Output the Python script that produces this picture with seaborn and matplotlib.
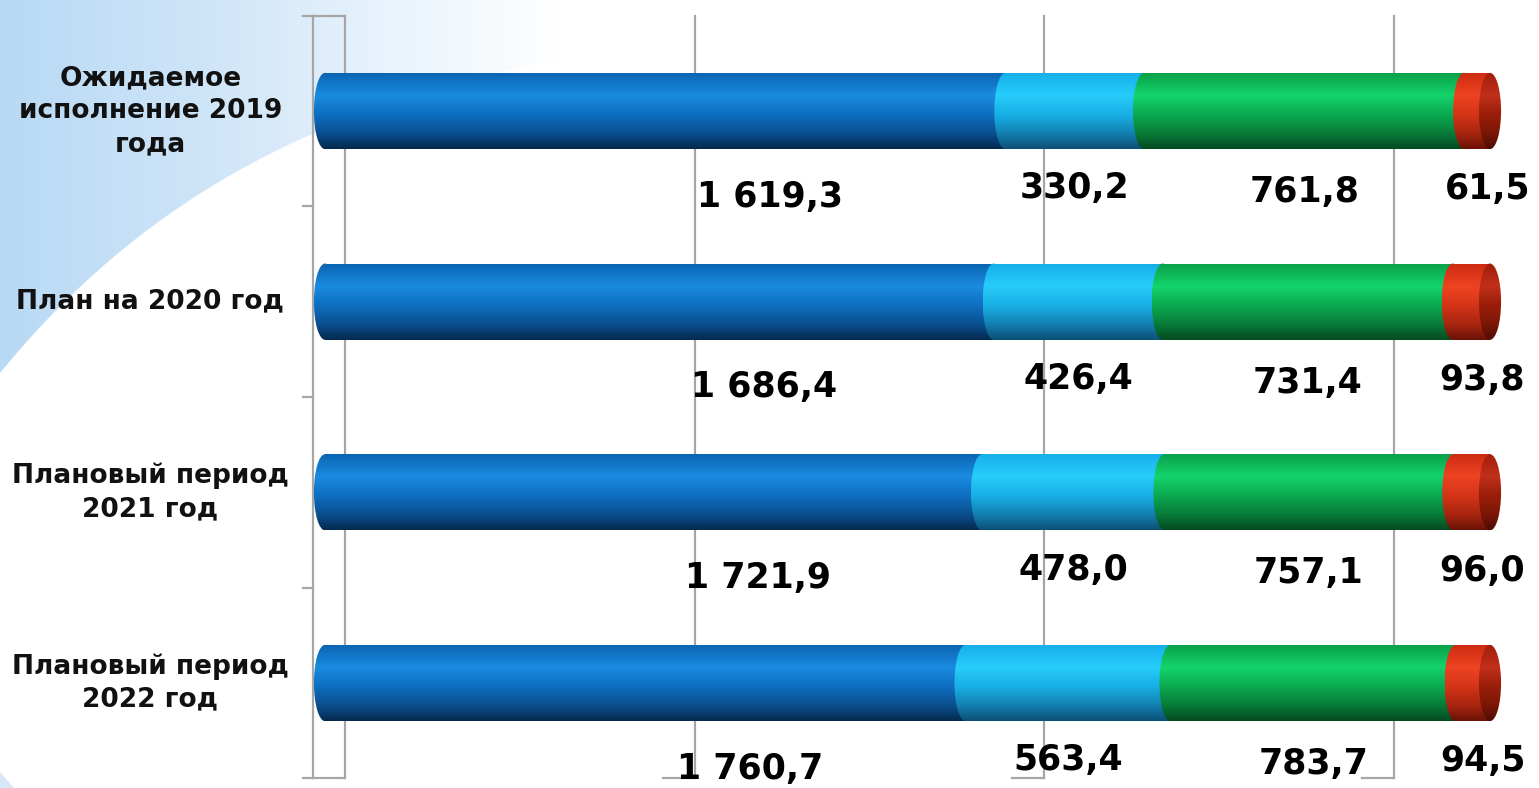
import numpy as np
import pandas as pd
import matplotlib
matplotlib.use('Agg')
import matplotlib.pyplot as plt
import seaborn as sns
from matplotlib.colors import LinearSegmentedColormap
from matplotlib.patches import Ellipse, Polygon

# данные
categories = ["Ожидаемое\nисполнение 2019\nгода", "План на 2020 год",
              "Плановый период\n2021 год", "Плановый период\n2022 год"]
seg_names = ["s1", "s2", "s3", "s4"]
seg1 = [1619.3, 1686.4, 1721.9, 1760.7]
seg2 = [330.2, 426.4, 478.0, 563.4]
seg3 = [761.8, 731.4, 757.1, 783.7]
seg4 = [61.5, 93.8, 96.0, 94.5]

df = pd.DataFrame({'cat': categories, 's1': seg1, 's2': seg2, 's3': seg3, 's4': seg4})
total = df[seg_names].sum(axis=1)
shares = df[seg_names].div(total, axis=0)
cums = shares.cumsum(axis=1)
starts = cums - shares

# цвета цилиндров (верх, блик, середина, низ)
grads = {
    's1': ['#0A63B0', '#1A8BE0', '#0E6FC0', '#0A4E8E', '#052A4E'],
    's2': ['#15AEEA', '#28CDFB', '#18B0E5', '#137FB0', '#0B4F74'],
    's3': ['#0A9E48', '#14D46C', '#0BAA50', '#087A38', '#044A20'],
    's4': ['#CC2A10', '#EE4422', '#D43418', '#A82510', '#6A1205'],
}
cap_grad = ['#A01E0A', '#C0301A', '#9A1E0A', '#7A1606', '#4E0C03']
stops = [0.0, 0.3, 0.55, 0.8, 1.0]

def cmap_of(cols):
    return LinearSegmentedColormap.from_list('c', list(zip(stops, cols)))

grad_img = np.linspace(0, 1, 256).reshape(-1, 1)

W, H = 1539, 788
fig = plt.figure(figsize=(W / 100, H / 100), dpi=100)

# фон: голубая волна слева
bg = fig.add_axes([0, 0, 1, 1], zorder=-1)
bg.set_xlim(0, W)
bg.set_ylim(H, 0)
bg.axis('off')
cx = np.linspace(0, 700, 120)
cy = 373 * np.exp(-cx / 305)
poly = Polygon([(0, 0)] + list(zip(cx, cy)) + [(700, 0)], closed=True,
               facecolor='none', edgecolor='none')
bg.add_patch(poly)
hgrad = np.linspace(0, 1, 256).reshape(1, -1)
bgcmap = LinearSegmentedColormap.from_list('bg', [(0, '#B8D9F4'), (0.3, '#CFE5F8'),
                                                  (0.55, '#E8F3FC'), (0.8, '#FFFFFF'), (1, '#FFFFFF')])
im = bg.imshow(hgrad, cmap=bgcmap, extent=(0, 700, H, 0), aspect='auto')
im.set_clip_path(poly)
corner = Polygon([(0, H), (0, 772), (14, H)], closed=True, facecolor='#D6E8F8', edgecolor='none')
bg.add_patch(corner)

ax = fig.add_axes([0, 0, 1, 1])
ax.patch.set_alpha(0)

a_px, b_px = 325, 1165
xmin, xmax = -a_px / b_px, (W - a_px) / b_px
ymin, ymax = -111 / 190.67, (H - 111) / 190.67

bar_h = 0.4
# рисуем накопленные полосы, от самой длинной к короткой
layer = 0
for k in reversed(seg_names):
    n0 = len(ax.patches)
    sns.barplot(x=cums[k].values, y=df['cat'], orient='h', color=grads[k][2],
                width=bar_h, errorbar=None, ax=ax)
    for p in ax.patches[n0:]:
        p.set_zorder(3 + layer * 2)
        p.set_edgecolor('none')
        x0, y0, w, h = p.get_x(), p.get_y(), p.get_width(), p.get_height()
        gi = ax.imshow(grad_img, cmap=cmap_of(grads[k]), extent=(x0, x0 + w, y0 + h, y0),
                       origin='upper', aspect='auto', zorder=3 + layer * 2 + 1)
        gi.set_clip_path(p)
    layer += 1

# торцы цилиндров
hw = 0.0095
for i in range(len(categories)):
    for k in seg_names:
        xs = starts.loc[i, k]
        e = Ellipse((xs, i), 2 * hw, bar_h, facecolor='none', edgecolor='none', zorder=20)
        ax.add_patch(e)
        gi = ax.imshow(grad_img, cmap=cmap_of(grads[k]), extent=(xs - hw, xs + hw, i + bar_h / 2, i - bar_h / 2),
                       origin='upper', aspect='auto', zorder=21)
        gi.set_clip_path(e)
    xe = cums.loc[i, 's4']
    e = Ellipse((xe, i), 2 * hw, bar_h, facecolor='none', edgecolor='none', zorder=30)
    ax.add_patch(e)
    gi = ax.imshow(grad_img, cmap=cmap_of(cap_grad), extent=(xe - hw, xe + hw, i + bar_h / 2, i - bar_h / 2),
                   origin='upper', aspect='auto', zorder=31)
    gi.set_clip_path(e)

# сетка и "коробка" оси
gc = '#A6A6A6'
back, front = 0.0175, -0.0103
top, bottom = -0.5, len(categories) - 0.5
for g in [0.3, 0.6, 0.9]:
    ax.plot([g + back, g + back], [top, bottom], color=gc, lw=1.6, zorder=1)
    ax.plot([g + front, g + back], [bottom, bottom], color=gc, lw=1.6, zorder=1)
ax.plot([back, back], [top, bottom], color=gc, lw=1.6, zorder=1)
ax.plot([front, front], [top, bottom], color=gc, lw=1.6, zorder=1)
ax.plot([front, back], [top, top], color=gc, lw=1.6, zorder=1)
ax.plot([front, back], [bottom, bottom], color=gc, lw=1.6, zorder=1)
for yb in np.arange(top, bottom + 0.01, 1.0):
    ax.plot([front - 0.009, front], [yb, yb], color=gc, lw=1.6, zorder=1)

# подписи значений
dx = {'s1': 0.09, 's2': 0.0, 's3': 0.0, 's4': 0.009}
dy = {'s1': 0.45, 's2': 0.405, 's3': 0.425, 's4': 0.41}

def fmt(v):
    return f"{v:,.1f}".replace(",", " ").replace(".", ",")

for i in range(len(categories)):
    for k in seg_names:
        xm = (starts.loc[i, k] + cums.loc[i, k]) / 2 + dx[k]
        ax.text(xm, i + dy[k], fmt(df.loc[i, k]), ha='center', va='center',
                fontsize=25, fontweight='bold', color='black', zorder=40)
    ax.text(-0.150, i, categories[i], ha='center', va='center', fontsize=19,
            fontweight='bold', color='#111111', linespacing=1.35, zorder=40)

ax.set_xlim(xmin, xmax)
ax.set_ylim(ymax, ymin)
ax.axis('off')

plt.savefig('out.png', dpi=100)
plt.close()
